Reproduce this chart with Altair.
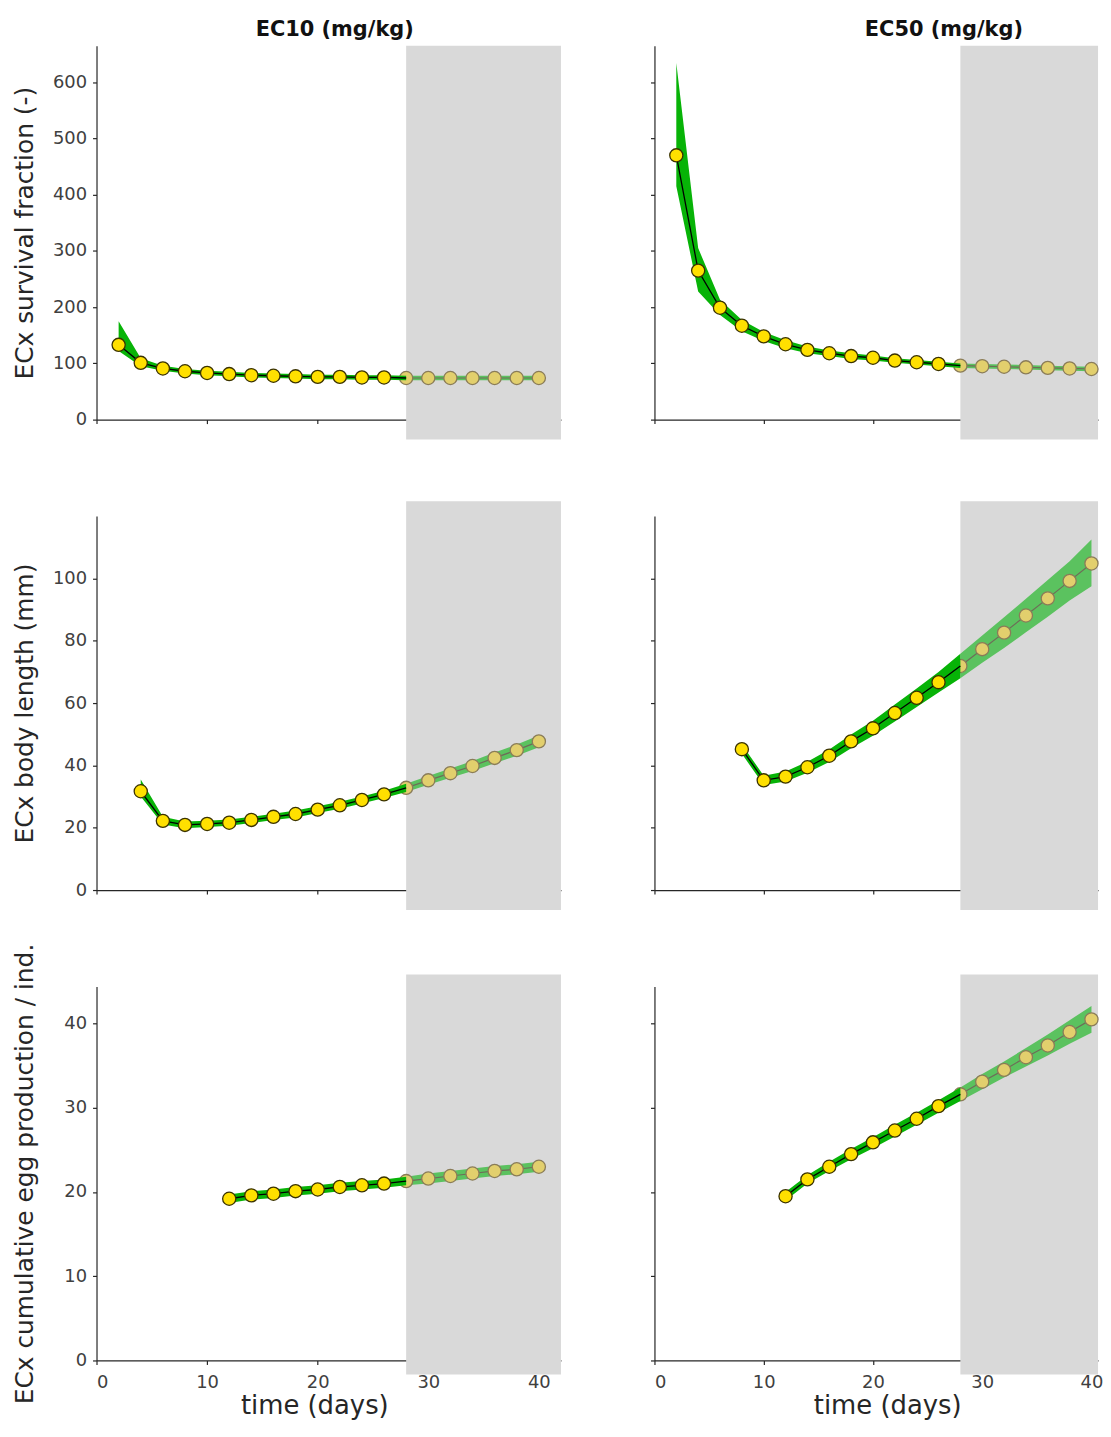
import altair as alt
import pandas as pd

# ---------------- data ----------------
SHADE_START = 28
T_SURV = [2, 4, 6, 8, 10, 12, 14, 16, 18, 20, 22, 24, 26, 28, 30, 32, 34, 36, 38, 40]
T_LEN10 = [4, 6, 8, 10, 12, 14, 16, 18, 20, 22, 24, 26, 28, 30, 32, 34, 36, 38, 40]
T_LEN50 = [8, 10, 12, 14, 16, 18, 20, 22, 24, 26, 28, 30, 32, 34, 36, 38, 40]
T_EGG = [12, 14, 16, 18, 20, 22, 24, 26, 28, 30, 32, 34, 36, 38, 40]

# EC10 survival
S10_MID = [133, 101, 91, 86, 83, 81, 79, 78, 77, 76, 76, 75, 75, 74, 74, 74, 74, 74, 74, 74]
S10_HI = [175, 109, 96, 90, 87, 85, 83, 82, 81, 80, 80, 79, 79, 78, 78, 78, 78, 78, 78, 78]
S10_LO = [122, 95, 87, 82, 79, 77, 75, 74, 73, 72, 72, 71, 71, 70, 70, 70, 70, 70, 70, 70]
# EC50 survival
S50_MID = [470, 265, 199, 167, 148, 134, 124, 118, 113, 110, 105, 102, 99, 96, 95, 94, 93, 92, 91, 90]
S50_HI = [634, 305, 213, 177, 156, 141, 130, 123, 118, 114, 109, 106, 103, 100, 99, 98, 97, 96, 95, 94]
S50_LO = [415, 228, 186, 157, 140, 127, 118, 113, 108, 105, 101, 98, 95, 92, 91, 90, 89, 88, 87, 86]
# EC10 body length
L10_MID = [31.7, 22.2, 20.9, 21.2, 21.6, 22.5, 23.5, 24.4, 25.8, 27.2, 28.9, 30.7, 32.8, 35.2, 37.5, 39.8, 42.4, 44.9, 47.7]
L10_HI = [35.5, 23.5, 22.0, 22.2, 22.6, 23.5, 24.5, 25.5, 26.9, 28.3, 30.0, 31.9, 34.1, 36.6, 39.0, 41.4, 44.1, 46.7, 49.6]
L10_LO = [30.0, 21.0, 19.8, 20.2, 20.6, 21.5, 22.5, 23.3, 24.7, 26.1, 27.8, 29.5, 31.5, 33.8, 36.0, 38.2, 40.7, 43.1, 45.8]
# EC50 body length
L50_MID = [45.2, 35.2, 36.4, 39.4, 43.1, 47.7, 51.9, 56.8, 61.7, 66.7, 71.9, 77.3, 82.6, 88.1, 93.6, 99.2, 104.8]
L50_HI = [46.7, 36.7, 38.0, 41.2, 45.1, 49.9, 54.3, 59.5, 64.7, 70.0, 75.8, 81.7, 87.5, 93.5, 99.5, 105.5, 112.5]
L50_LO = [43.7, 33.7, 34.8, 37.6, 41.1, 45.5, 49.5, 54.1, 58.7, 63.4, 68.0, 72.9, 77.7, 82.7, 87.7, 92.9, 97.5]
# EC10 cumulative eggs
E10_MID = [19.2, 19.6, 19.8, 20.1, 20.3, 20.6, 20.8, 21.0, 21.3, 21.6, 21.9, 22.2, 22.5, 22.7, 23.0]
E10_HI = [19.7, 20.1, 20.3, 20.6, 20.8, 21.1, 21.3, 21.5, 21.8, 22.2, 22.5, 22.8, 23.1, 23.3, 23.6]
E10_LO = [18.7, 19.1, 19.3, 19.6, 19.8, 20.1, 20.3, 20.5, 20.8, 21.0, 21.3, 21.6, 21.9, 22.1, 22.4]
# EC50 cumulative eggs
E50_MID = [19.5, 21.5, 23.0, 24.5, 25.9, 27.3, 28.7, 30.2, 31.6, 33.1, 34.5, 36.0, 37.4, 39.0, 40.5]
E50_HI = [20.0, 22.0, 23.6, 25.1, 26.5, 28.0, 29.4, 30.9, 32.4, 34.0, 35.5, 37.1, 38.7, 40.4, 42.1]
E50_LO = [19.0, 21.0, 22.5, 23.9, 25.2, 26.6, 28.0, 29.4, 30.8, 32.2, 33.6, 34.9, 36.2, 37.6, 38.9]

X_TICKS = [0, 10, 20, 30, 40]
Y_TICKS_SURV = [0, 100, 200, 300, 400, 500, 600]
Y_TICKS_LEN = [0, 20, 40, 60, 80, 100]
Y_TICKS_EGG = [0, 10, 20, 30, 40]

COL_TITLES = ["EC10 (mg/kg)", "EC50 (mg/kg)"]
ROW_TITLES = ["ECx survival fraction (-)", "ECx body length (mm)",
              "ECx cumulative egg production / ind."]
X_TITLE = "time (days)"

# ---------------- styling ----------------
FONT = "DejaVu Sans"
H = 376
W_LEFT, XMAX_LEFT = 467, 42
W_RIGHT, XMAX_RIGHT = 446, 40.6
GREEN = "#07b307"
GREEN_F = "#5bc25f"
YELLOW = "#ffe000"
YELLOW_F = "#e2cf6d"
MSTROKE = "#3a3200"
MSTROKE_F = "#8a7c58"
LINE_F = "#6e6c58"
GREY = "#d9d9d9"


def panel(t, mid, lo, hi, xmax, width, ymax, yticks, left, bottom,
          ytitle=None, title=None, title_dx=0, ext_top=0.0, ext_bot=0.0,
          xtitle_x=None):
    df = pd.DataFrame({"t": t, "mid": mid, "lo": lo, "hi": hi})
    pre = df[df["t"] <= SHADE_START]
    post = df[df["t"] >= SHADE_START]
    pre_pts = df[df["t"] < SHADE_START]
    shade = pd.DataFrame({"t": [SHADE_START], "t2": [xmax],
                          "y0": [ymax + ext_top], "y1": [-ext_bot]})

    xk = dict(values=X_TICKS, labels=bottom, tickSize=4, labelPadding=9,
              title=X_TITLE if bottom else None, titlePadding=1, grid=False)
    if bottom and xtitle_x is not None:
        xk.update(titleX=xtitle_x)
    x_axis = alt.Axis(**xk)
    yk = dict(values=yticks, labels=left, tickSize=4, labelPadding=6, grid=False)
    if left and ytitle:
        yk.update(title=ytitle, titleX=-72, titleY=H / 2, titleAngle=-90,
                  titleAlign="center", titleBaseline="middle")
    else:
        yk.update(title=None)
    y_axis = alt.Axis(**yk)

    xs = alt.Scale(domain=[0, xmax], nice=False, zero=False)
    ys = alt.Scale(domain=[0, ymax], nice=False, zero=False)
    X = alt.X("t:Q", scale=xs, axis=x_axis)

    grey = alt.Chart(shade).mark_rect(color=GREY, opacity=1).encode(
        x=X, x2="t2:Q", y=alt.Y("y0:Q", scale=ys, axis=y_axis), y2="y1:Q")

    def band(d, col):
        return alt.Chart(d).mark_area(color=col, opacity=1).encode(
            x=X, y=alt.Y("lo:Q", scale=ys, axis=y_axis), y2="hi:Q")

    def line(d, col, w):
        return alt.Chart(d).mark_line(color=col, strokeWidth=w).encode(
            x=X, y=alt.Y("mid:Q", scale=ys, axis=y_axis))

    def pts(d, fill, stroke):
        return alt.Chart(d).mark_point(shape="circle", filled=True, fill=fill,
                                       stroke=stroke, strokeWidth=1.3, size=175,
                                       opacity=1).encode(
            x=X, y=alt.Y("mid:Q", scale=ys, axis=y_axis))

    ch = alt.layer(
        grey,
        band(post, GREEN_F), line(post, LINE_F, 1.2), pts(post, YELLOW_F, MSTROKE_F),
        band(pre, GREEN), line(pre, "#000000", 1.3), pts(pre_pts, YELLOW, MSTROKE),
    ).properties(width=width, height=H)
    if title:
        ch = ch.properties(title=alt.TitleParams(
            text=title, font=FONT, fontSize=21, fontWeight="bold",
            color="#111111", dx=title_dx, offset=6, anchor="middle"))
    return ch


c1 = panel(T_SURV, S10_MID, S10_LO, S10_HI, XMAX_LEFT, W_LEFT, 665, Y_TICKS_SURV,
           True, False, ROW_TITLES[0], COL_TITLES[0], 6, 0, 665 / H * 20)
c2 = panel(T_SURV, S50_MID, S50_LO, S50_HI, XMAX_RIGHT, W_RIGHT, 665, Y_TICKS_SURV,
           False, False, None, COL_TITLES[1], 68, 0, 665 / H * 20)
c3 = panel(T_LEN10, L10_MID, L10_LO, L10_HI, XMAX_LEFT, W_LEFT, 120, Y_TICKS_LEN,
           True, False, ROW_TITLES[1], None, 0, 120 / H * 15, 120 / H * 20)
c4 = panel(T_LEN50, L50_MID, L50_LO, L50_HI, XMAX_RIGHT, W_RIGHT, 120, Y_TICKS_LEN,
           False, False, None, None, 0, 120 / H * 15, 120 / H * 20)
c5 = panel(T_EGG, E10_MID, E10_LO, E10_HI, XMAX_LEFT, W_LEFT, 44.4, Y_TICKS_EGG,
           True, True, ROW_TITLES[2], None, 0, 44.4 / H * 12, 44.4 / H * 14,
           xtitle_x=219)
c6 = panel(T_EGG, E50_MID, E50_LO, E50_HI, XMAX_RIGHT, W_RIGHT, 44.4, Y_TICKS_EGG,
           False, True, None, None, 0, 44.4 / H * 12, 44.4 / H * 14,
           xtitle_x=234)

chart = alt.concat(c1, c2, c3, c4, c5, c6, columns=2,
                   spacing={"row": 97, "column": 94}, bounds="flush").properties(
    padding={"left": 4, "top": 7, "right": 0, "bottom": 0}
).configure_view(stroke=None).configure_axis(
    domainColor="#262626", tickColor="#262626", domainWidth=1.2, tickWidth=1.2,
    labelColor="#404040", labelFont=FONT, labelFontSize=18,
    titleColor="#262626", titleFont=FONT, titleFontSize=25, titleFontWeight="normal",
).configure_axisBottom(titleFontSize=26)

chart.save("out.html", embed_options={"renderer": "svg", "actions": False})
